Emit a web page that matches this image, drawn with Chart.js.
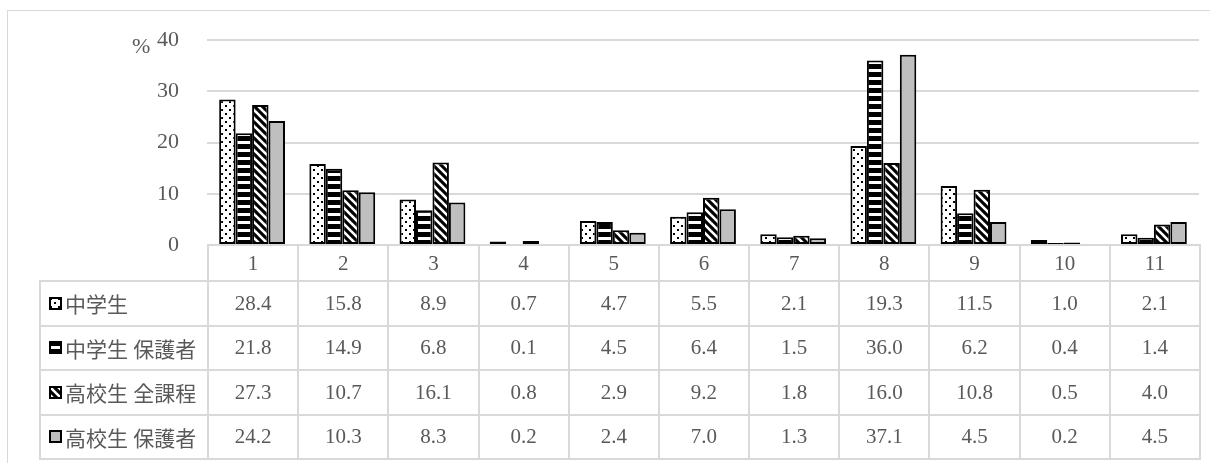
<!DOCTYPE html>
<html>
<head>
<meta charset="utf-8">
<script src="https://cdn.jsdelivr.net/npm/chart.js@4.4.0/dist/chart.umd.min.js"></script>
<style>
  body { margin: 0; background: #fff; }
  #page { position: relative; width: 1210px; height: 463px; overflow: hidden; }
  #frame { position: absolute; left: 7px; top: 10px; width: 1220px; height: 470px; border: 1px solid #d9d9d9; box-sizing: border-box; }
  #chart { position: absolute; left: 0; top: 0; }
  #unit { position: absolute; left: 132px; top: 33px; font: 22px 'Liberation Serif', 'Noto Sans CJK JP', serif; color: #595959; }
  #table { position: absolute; left: 0; top: 0; }
  .cell { position: absolute; box-sizing: border-box; border: 2px solid #d9d9d9; display: flex; align-items: center; justify-content: center;
    font: 21px 'Liberation Serif', 'Noto Sans CJK JP', serif; color: #595959; }
  .label { justify-content: flex-start; padding-left: 8px; }
  .label canvas { margin-right: 3px; }
</style>
</head>
<body>
<div id="page">
  <div id="frame"></div>
  <canvas id="chart" width="1210" height="259"></canvas>
  <div id="unit">%</div>
  <div id="table"></div>
</div>
<script>
var categories = ['1', '2', '3', '4', '5', '6', '7', '8', '9', '10', '11'];
var seriesNames = ['中学生', '中学生 保護者', '高校生 全課程', '高校生 保護者'];
var juniorHigh = [28.4, 15.8, 8.9, 0.7, 4.7, 5.5, 2.1, 19.3, 11.5, 1.0, 2.1];
var juniorHighParents = [21.8, 14.9, 6.8, 0.1, 4.5, 6.4, 1.5, 36.0, 6.2, 0.4, 1.4];
var highSchool = [27.3, 10.7, 16.1, 0.8, 2.9, 9.2, 1.8, 16.0, 10.8, 0.5, 4.0];
var highSchoolParents = [24.2, 10.3, 8.3, 0.2, 2.4, 7.0, 1.3, 37.1, 4.5, 0.2, 4.5];
var yTicks = [0, 10, 20, 30, 40];

// pattern tiles, like the Excel fills
function makeTile(kind) {
  var c = document.createElement('canvas');
  c.width = 8; c.height = 8;
  var g = c.getContext('2d');
  if (kind === 'dots') {
    g.fillStyle = '#fff'; g.fillRect(0, 0, 8, 8);
    g.fillStyle = '#000';
    g.fillRect(1, 1, 2, 2);
    g.fillRect(5, 5, 2, 2);
  } else if (kind === 'hstripe') {
    g.fillStyle = '#fff'; g.fillRect(0, 0, 8, 8);
    g.fillStyle = '#000'; g.fillRect(0, 0, 8, 5);
  } else if (kind === 'diag') {
    g.fillStyle = '#000'; g.fillRect(0, 0, 8, 8);
    g.strokeStyle = '#fff'; g.lineWidth = 2.6;
    [-8, 0, 8].forEach(function (o) {
      g.beginPath(); g.moveTo(o - 2, -2); g.lineTo(o + 10, 10); g.stroke();
    });
  } else {
    g.fillStyle = '#bfbfbf'; g.fillRect(0, 0, 8, 8);
  }
  return c;
}
var kinds = ['dots', 'hstripe', 'diag', 'gray'];
var ctx = document.getElementById('chart').getContext('2d');
var fills = kinds.map(function (k) { return ctx.createPattern(makeTile(k), 'repeat'); });
var allSeries = [juniorHigh, juniorHighParents, highSchool, highSchoolParents];

var chart = new Chart(ctx, {
  type: 'bar',
  data: {
    labels: categories,
    datasets: allSeries.map(function (vals, i) {
      return {
        label: seriesNames[i],
        data: vals,
        backgroundColor: fills[i],
        borderColor: '#000',
        borderWidth: 2,
        borderSkipped: false,
        categoryPercentage: 0.73,
        barPercentage: 1.0
      };
    })
  },
  options: {
    responsive: false,
    animation: false,
    layout: { padding: { top: 40, bottom: 14, right: 11, left: 0 } },
    plugins: { legend: { display: false }, tooltip: { enabled: false } },
    scales: {
      x: { display: false },
      y: {
        min: 0, max: 40,
        afterFit: function (scale) { scale.width = 207; },
        afterBuildTicks: function (scale) { scale.ticks = yTicks.map(function (v) { return { value: v }; }); },
        border: { display: false },
        // invisible tick marks give the gap between labels and plot
        // (ticks.padding would also pad the top and bottom of the plot)
        grid: { color: '#d9d9d9', lineWidth: 2, drawTicks: true, tickLength: 28, tickColor: 'rgba(0,0,0,0)' },
        ticks: { padding: 0, color: '#595959', font: { family: "'Liberation Serif', serif", size: 22 } }
      }
    }
  }
});

// data table under the plot, columns follow the x scale
function buildTable() {
  var area = chart.chartArea;
  var table = document.getElementById('table');
  var colW = (area.right - area.left) / categories.length;
  var top = area.bottom - 1, headH = 36, rowH = 44.5, labelLeft = 39;
  function cell(x, y, w, h, cls) {
    var d = document.createElement('div');
    d.className = 'cell' + (cls ? ' ' + cls : '');
    d.style.left = x + 'px'; d.style.top = y + 'px';
    d.style.width = (w + 2) + 'px'; d.style.height = (h + 2) + 'px';
    table.appendChild(d);
    return d;
  }
  categories.forEach(function (c, j) {
    cell(area.left + j * colW, top, colW, headH).textContent = c;
  });
  allSeries.forEach(function (vals, i) {
    var y = top + headH + i * rowH;
    var lab = cell(labelLeft, y, area.left - labelLeft, rowH, 'label');
    var key = document.createElement('canvas');
    key.width = 13; key.height = 13;
    var kg = key.getContext('2d');
    kg.fillStyle = kg.createPattern(makeTile(kinds[i]), 'repeat');
    kg.fillRect(0, 0, 13, 13);
    kg.strokeStyle = '#000'; kg.lineWidth = 2; kg.strokeRect(1, 1, 11, 11);
    lab.appendChild(key);
    lab.appendChild(document.createTextNode(seriesNames[i]));
    vals.forEach(function (v, j) {
      cell(area.left + j * colW, y, colW, rowH).textContent = v.toFixed(1);
    });
  });
}
buildTable();
</script>
</body>
</html>
